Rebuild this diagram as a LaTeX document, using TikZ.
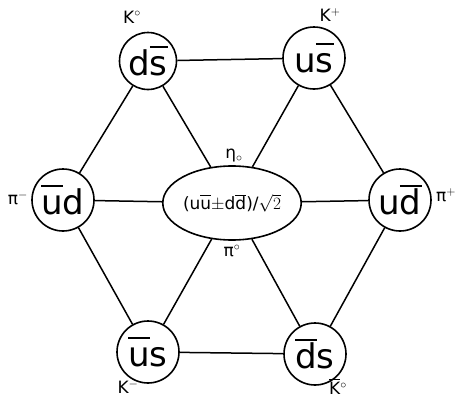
\documentclass[tikz,border=0pt]{standalone}
\usepackage{fontspec}
\setmainfont{DejaVu Sans}
\usetikzlibrary{shapes.geometric}
\newcommand\qb[1]{\leavevmode\vbox{\hrule height 0.055em \kern 0.06em \hbox{\vphantom{d}#1}}}
\begin{document}
\begin{tikzpicture}[x=1pt,y=-1pt,
  quark/.style={circle,draw,line width=1.6pt,inner sep=0pt,minimum size=62pt,
     font=\fontsize{34}{36}\selectfont},
  mid/.style={ellipse,draw,line width=1.6pt,inner sep=0pt,minimum width=122pt,minimum height=74pt,
     font=\fontsize{17}{19}\selectfont},
  lab/.style={font=\fontsize{17}{19}\selectfont,inner sep=1pt},
  edge/.style={line width=1.5pt}]
\useasboundingbox (0,0) rectangle (456,399);
\node[quark,minimum size=57pt] (tl) at (148,61) {d\qb{s}};
\node[quark] (tr) at (314,58) {u\qb{s}};
\node[quark] (l) at (63,200) {\qb{u}d};
\node[quark] (r) at (400,200) {u\qb{d}};
\node[quark] (bl) at (148,352) {\qb{u}s};
\node[quark] (br) at (315,354) {\qb{d}s};
\node[mid] (c) at (232,203) {(u\qb{u}$\pm$d\qb{d})/$\sqrt{2}$};
\node[lab] (k0) at (132,17) {K$^{\circ}$};
\node[lab] (kp) at (330,15) {K$^{+}$};
\node[lab] (pim) at (18,198) {π$^{-}$};
\node[lab] (pip) at (446,195) {π$^{+}$};
\node[lab] (km) at (128,387) {K$^{-}$};
\node[lab] (kb) at (338,387) {\qb{K}$^{\circ}$};
\node[lab] (eta) at (234,156) {η$_{\circ}$};
\node[lab] (pi0) at (232,251) {π$^{\circ}$};
\draw[edge] (tl) -- (tr);
\draw[edge] (tl) -- (l);
\draw[edge] (tl) -- (c);
\draw[edge] (tr) -- (c);
\draw[edge] (tr) -- (r);
\draw[edge] (l) -- (c);
\draw[edge] (c) -- (r);
\draw[edge] (l) -- (bl);
\draw[edge] (c) -- (bl);
\draw[edge] (c) -- (br);
\draw[edge] (r) -- (br);
\draw[edge] (bl) -- (br);
\end{tikzpicture}
\end{document}
